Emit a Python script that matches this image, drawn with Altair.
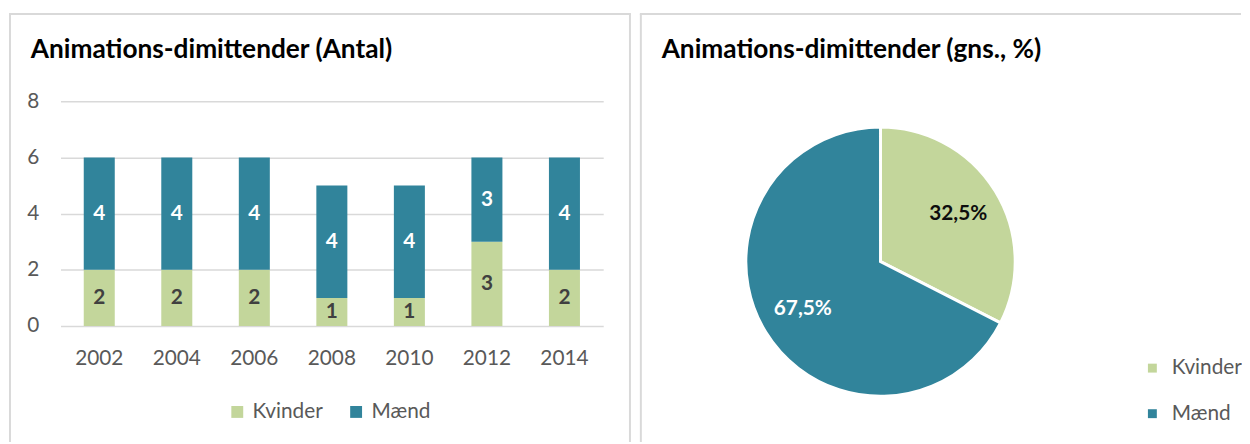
import altair as alt
import pandas as pd

# ---- data ----
years = ["2002", "2004", "2006", "2008", "2010", "2012", "2014"]
kvinder = [2, 2, 2, 1, 1, 3, 2]
maend = [4, 4, 4, 4, 4, 3, 4]
sexes = ["Kvinder", "Mænd"]
y_ticks = [0, 2, 4, 6, 8]
pie_share = [32.5, 67.5]
pie_text = ["32,5%", "67,5%"]
titles = ["Animations-dimittender (Antal)", "Animations-dimittender (gns., %)"]

# ---- styles ----
colors = ["#C3D69B", "#31849B"]
bar_label_colors = ["#404040", "#FFFFFF"]
pie_label_colors = ["#0D0D0D", "#FFFFFF"]
FONT = "Lato"
GREY = "#595959"
BORDER = "#D9D9D9"

rows = []
for i, yr in enumerate(years):
    rows.append({"year": yr, "sex": sexes[0], "n": kvinder[i], "ord": 0, "lc": bar_label_colors[0]})
    rows.append({"year": yr, "sex": sexes[1], "n": maend[i], "ord": 1, "lc": bar_label_colors[1]})
bar_df = pd.DataFrame(rows)

pie_df = pd.DataFrame({"sex": sexes, "share": pie_share, "txt": pie_text,
                       "tc": pie_label_colors, "ord": [0, 1]})
one = pd.DataFrame({"k": [0]})

color_scale = alt.Scale(domain=sexes, range=colors)

# ---------------- left panel ----------------
x_enc = alt.X("year:N", sort=years,
              scale=alt.Scale(paddingInner=0.6, paddingOuter=0.3),
              axis=alt.Axis(title=None, labelAngle=0, ticks=False, domain=False, grid=False,
                            labelFontSize=21, labelPadding=22, labelColor=GREY, labelFont=FONT))

bars = alt.Chart(bar_df).mark_bar().encode(
    x=x_enc,
    y=alt.Y("n:Q", stack="zero", scale=alt.Scale(domain=[0, 8]),
            axis=alt.Axis(title=None, values=y_ticks, ticks=False, tickSize=0, domain=False,
                          grid=True, gridColor=BORDER, gridWidth=1.5,
                          labelFontSize=21, labelPadding=22, labelColor=GREY, labelFont=FONT)),
    color=alt.Color("sex:N", scale=color_scale,
                    legend=alt.Legend(title=None, orient="none", legendX=168, legendY=303,
                                      direction="horizontal", symbolType="square", symbolSize=144,
                                      symbolStrokeWidth=0, labelFontSize=21, labelFont=FONT,
                                      labelColor=GREY, columnPadding=23, labelOffset=5)),
    order=alt.Order("ord:Q"),
)

bar_text = alt.Chart(bar_df).transform_stack(
    stack="n", groupby=["year"], as_=["y0", "y1"], sort=[alt.SortField("ord")]
).transform_calculate(mid="(datum.y0 + datum.y1) / 2").mark_text(
    font=FONT, fontSize=21, fontWeight="bold"
).encode(
    x=alt.X("year:N", sort=years),
    y=alt.Y("mid:Q"),
    text="n:Q",
    fill=alt.Fill("lc:N", scale=None),
)

left_title = alt.Chart(one).mark_text(
    text=titles[0], font=FONT, fontSize=26.5, fontWeight="bold", align="left",
    baseline="alphabetic", color="#000000"
).encode(x=alt.value(-30), y=alt.value(-44))

lb1 = alt.Chart(one).mark_rule(color=BORDER, strokeWidth=2).encode(
    x=alt.value(-51), y=alt.value(-88), y2=alt.value(344))
lb2 = alt.Chart(one).mark_rule(color=BORDER, strokeWidth=2).encode(
    x=alt.value(575), y=alt.value(-88), y2=alt.value(344))
lb3 = alt.Chart(one).mark_rule(color=BORDER, strokeWidth=2).encode(
    x=alt.value(-52), x2=alt.value(576), y=alt.value(-88))

left = alt.layer(lb1, lb2, lb3, bars, bar_text, left_title).properties(width=548, height=227)

# ---------------- right panel ----------------
arc = alt.Chart(pie_df).mark_arc(stroke="white", strokeWidth=3).encode(
    theta=alt.Theta("share:Q", stack=True),
    color=alt.Color("sex:N", scale=color_scale,
                    legend=alt.Legend(title=None, orient="none", legendX=400, legendY=259,
                                      direction="vertical", symbolType="square", symbolSize=81,
                                      symbolStrokeWidth=0, labelFontSize=21, labelFont=FONT,
                                      labelColor=GREY, rowPadding=24, labelOffset=9)),
    order=alt.Order("ord:Q"),
)

pie_text_layer = alt.Chart(pie_df).mark_text(
    radius=92, font=FONT, fontSize=21, fontWeight="bold"
).encode(
    theta=alt.Theta("share:Q", stack=True),
    text="txt:N",
    fill=alt.Fill("tc:N", scale=None),
    order=alt.Order("ord:Q"),
)

right_title = alt.Chart(one).mark_text(
    text=titles[1], font=FONT, fontSize=26.5, fontWeight="bold", align="left",
    baseline="alphabetic", color="#000000"
).encode(x=alt.value(-85), y=alt.value(-44))

rb1 = alt.Chart(one).mark_rule(color=BORDER, strokeWidth=2).encode(
    x=alt.value(-106), y=alt.value(-88), y2=alt.value(344))
rb2 = alt.Chart(one).mark_rule(color=BORDER, strokeWidth=2).encode(
    x=alt.value(-107), x2=alt.value(500), y=alt.value(-88))

right = alt.layer(rb1, rb2, arc, pie_text_layer, right_title).properties(width=272, height=324)

chart = alt.hconcat(left, right, spacing=7).resolve_scale(
    color="independent"
).resolve_legend(color="independent").properties(
    padding={"left": 0, "top": 3, "right": 0, "bottom": 0}
).configure_view(strokeWidth=0)

chart.save("out.html", embed_options={"renderer": "svg", "actions": False})
